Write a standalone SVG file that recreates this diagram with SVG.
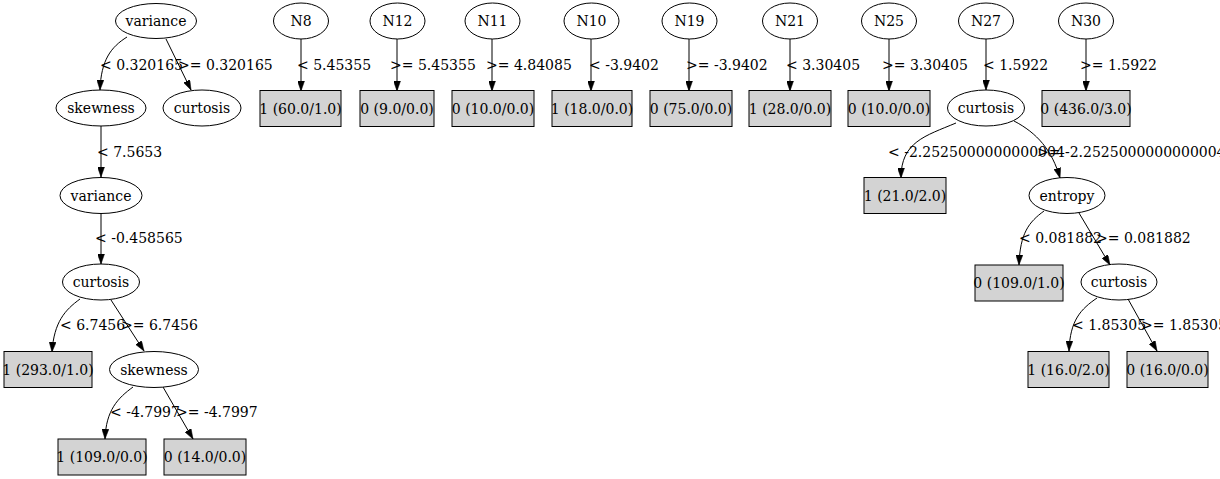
<svg xmlns="http://www.w3.org/2000/svg" width="1220" height="479" viewBox="0 0 1220 479">
<style>
text{font-family:"DejaVu Serif","Liberation Serif",serif;font-size:14px;fill:#000}
.n ellipse{fill:none;stroke:#000;stroke-width:1}
.n text,.l text{text-anchor:middle}
.l rect{fill:#d3d3d3;stroke:#000;stroke-width:1}
#edges path{fill:none;stroke:#000;stroke-width:1;marker-end:url(#ah)}
.el{text-anchor:start}
</style>
<defs>
<marker id="ah" viewBox="0 0 10 7" refX="10" refY="3.5" markerWidth="10" markerHeight="7" markerUnits="userSpaceOnUse" orient="auto">
<path d="M0,0 L10,3.5 L0,7 z" fill="#000" stroke="#000" stroke-width="0.5"/>
</marker>
</defs>
<rect width="1220" height="479" fill="#fff"/>
<g id="edges">
<path d="M127,37 C111,47 101,60 100,90"/>
<path d="M166,39 L191,90"/>
<path d="M301,39 L301,91"/>
<path d="M397,39 L397,91"/>
<path d="M492,39 L492,91"/>
<path d="M591,39 L591,91"/>
<path d="M689,39 L689,91"/>
<path d="M790,39 L790,91"/>
<path d="M889,39 L889,91"/>
<path d="M986,39 L986,90"/>
<path d="M1086,39 L1086,91"/>
<path d="M101,126 L101,177"/>
<path d="M101,213 L101,264"/>
<path d="M80,299 C65,310 54,322 52,352"/>
<path d="M111,300 L144,351"/>
<path d="M133,387 C118,398 106,410 105,439"/>
<path d="M163,387 L193,439"/>
<path d="M956,123 C925,136 901,142 901,178"/>
<path d="M1014,121 C1037,133 1052,150 1060,178"/>
<path d="M1044,211 C1029,222 1020,233 1019,265"/>
<path d="M1079,213 L1110,265"/>
<path d="M1097,298 C1081,309 1070,320 1069,351"/>
<path d="M1128,299 L1157,351"/>
<text class="el" x="100" y="70">&lt; 0.320165</text>
<text class="el" x="178" y="70">&gt;= 0.320165</text>
<text class="el" x="297" y="70">&lt; 5.45355</text>
<text class="el" x="390" y="70">&gt;= 5.45355</text>
<text class="el" x="486" y="70">&gt;= 4.84085</text>
<text class="el" x="589" y="70">&lt; -3.9402</text>
<text class="el" x="686" y="70">&gt;= -3.9402</text>
<text class="el" x="786" y="70">&lt; 3.30405</text>
<text class="el" x="882" y="70">&gt;= 3.30405</text>
<text class="el" x="983" y="70">&lt; 1.5922</text>
<text class="el" x="1080" y="70">&gt;= 1.5922</text>
<text class="el" x="97" y="157">&lt; 7.5653</text>
<text class="el" x="888" y="157">&lt; -2.2525000000000004</text>
<text class="el" x="1037" y="157">&gt;= -2.2525000000000004</text>
<text class="el" x="95" y="243">&lt; -0.458565</text>
<text class="el" x="1019" y="243">&lt; 0.081882</text>
<text class="el" x="1096" y="243">&gt;= 0.081882</text>
<text class="el" x="60" y="330">&lt; 6.7456</text>
<text class="el" x="121" y="330">&gt;= 6.7456</text>
<text class="el" x="1072" y="330">&lt; 1.85305</text>
<text class="el" x="1141" y="330">&gt;= 1.85305</text>
<text class="el" x="110" y="417">&lt; -4.7997</text>
<text class="el" x="176" y="417">&gt;= -4.7997</text>
</g>
<g id="n0" class="n"><ellipse cx="156" cy="21" rx="40.5" ry="17.5"/><text x="156" y="26">variance</text></g>
<g id="n1" class="n"><ellipse cx="101" cy="108" rx="45" ry="18"/><text x="101" y="113">skewness</text></g>
<g id="n2" class="n"><ellipse cx="202" cy="108" rx="39" ry="18"/><text x="202" y="113">curtosis</text></g>
<g id="n3" class="n"><ellipse cx="101" cy="195.5" rx="41" ry="18"/><text x="101" y="200.5">variance</text></g>
<g id="n4" class="n"><ellipse cx="101" cy="282" rx="38.5" ry="18"/><text x="101" y="287">curtosis</text></g>
<g id="n5" class="l"><rect x="4" y="351.5" width="88" height="36"/><text x="48" y="374.5">1 (293.0/1.0)</text></g>
<g id="n6" class="n"><ellipse cx="154" cy="369.5" rx="44.5" ry="18"/><text x="154" y="374.5">skewness</text></g>
<g id="n7" class="l"><rect x="58" y="439" width="88" height="36"/><text x="102" y="462">1 (109.0/0.0)</text></g>
<g id="n8" class="l"><rect x="164" y="439" width="82" height="36"/><text x="205" y="462">0 (14.0/0.0)</text></g>
<g id="N8" class="n"><ellipse cx="301" cy="21" rx="27.5" ry="18"/><text x="301" y="26">N8</text></g>
<g id="N8l" class="l"><rect x="260" y="90.5" width="81" height="36"/><text x="300.5" y="113.5">1 (60.0/1.0)</text></g>
<g id="N12" class="n"><ellipse cx="397.5" cy="21" rx="27.5" ry="18"/><text x="397.5" y="26">N12</text></g>
<g id="N12l" class="l"><rect x="360" y="90.5" width="74" height="36"/><text x="397" y="113.5">0 (9.0/0.0)</text></g>
<g id="N11" class="n"><ellipse cx="492.5" cy="21" rx="27.5" ry="18"/><text x="492.5" y="26">N11</text></g>
<g id="N11l" class="l"><rect x="452" y="90.5" width="82" height="36"/><text x="493" y="113.5">0 (10.0/0.0)</text></g>
<g id="N10" class="n"><ellipse cx="591.5" cy="21" rx="27.5" ry="18"/><text x="591.5" y="26">N10</text></g>
<g id="N10l" class="l"><rect x="552" y="90.5" width="80" height="36"/><text x="592" y="113.5">1 (18.0/0.0)</text></g>
<g id="N19" class="n"><ellipse cx="689.5" cy="21" rx="27.5" ry="18"/><text x="689.5" y="26">N19</text></g>
<g id="N19l" class="l"><rect x="650" y="90.5" width="82" height="36"/><text x="691" y="113.5">0 (75.0/0.0)</text></g>
<g id="N21" class="n"><ellipse cx="790" cy="21" rx="27.5" ry="18"/><text x="790" y="26">N21</text></g>
<g id="N21l" class="l"><rect x="749" y="90.5" width="82" height="36"/><text x="790" y="113.5">1 (28.0/0.0)</text></g>
<g id="N25" class="n"><ellipse cx="889" cy="21" rx="27.5" ry="18"/><text x="889" y="26">N25</text></g>
<g id="N25l" class="l"><rect x="848" y="90.5" width="82" height="36"/><text x="889" y="113.5">0 (10.0/0.0)</text></g>
<g id="N27" class="n"><ellipse cx="986" cy="21" rx="27.5" ry="18"/><text x="986" y="26">N27</text></g>
<g id="N27c" class="n"><ellipse cx="986" cy="108" rx="38.5" ry="18"/><text x="986" y="113">curtosis</text></g>
<g id="N27a" class="l"><rect x="864" y="177.5" width="82" height="36"/><text x="905" y="200.5">1 (21.0/2.0)</text></g>
<g id="N27e" class="n"><ellipse cx="1067" cy="195.5" rx="38" ry="18"/><text x="1067" y="200.5">entropy</text></g>
<g id="N27b" class="l"><rect x="975" y="265" width="88" height="36"/><text x="1019" y="288">0 (109.0/1.0)</text></g>
<g id="N27d" class="n"><ellipse cx="1119" cy="282" rx="38" ry="18"/><text x="1119" y="287">curtosis</text></g>
<g id="N27f" class="l"><rect x="1028" y="351.5" width="81" height="36"/><text x="1068.5" y="374.5">1 (16.0/2.0)</text></g>
<g id="N27g" class="l"><rect x="1127" y="351.5" width="81" height="36"/><text x="1167.5" y="374.5">0 (16.0/0.0)</text></g>
<g id="N30" class="n"><ellipse cx="1086" cy="21" rx="27.5" ry="18"/><text x="1086" y="26">N30</text></g>
<g id="N30l" class="l"><rect x="1042" y="90.5" width="88" height="36"/><text x="1086" y="113.5">0 (436.0/3.0)</text></g>
</svg>
